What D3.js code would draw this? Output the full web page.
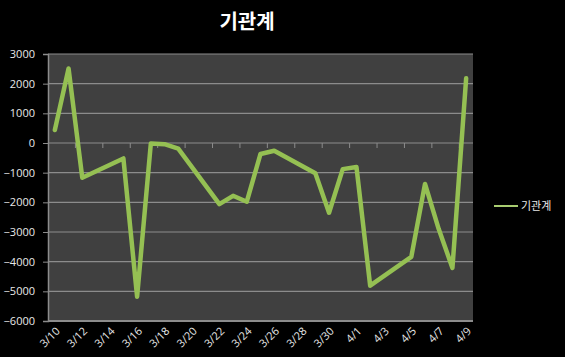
<!DOCTYPE html>
<html><head><meta charset="utf-8">
<script src="https://cdn.jsdelivr.net/npm/d3@7"></script>
<style>
body{margin:0;background:#000;}
svg{display:block;}
</style></head>
<body>
<script>
const title = "기관계";
const seriesName = "기관계";
const categories = ["3/10","3/11","3/12","3/13","3/14","3/15","3/16","3/17","3/18","3/19","3/20","3/21","3/22","3/23","3/24","3/25","3/26","3/27","3/28","3/29","3/30","3/31","4/1","4/2","4/3","4/4","4/5","4/6","4/7","4/8","4/9"];
const pointDates = ["3/10","3/11","3/12","3/15","3/16","3/17","3/18","3/19","3/22","3/23","3/24","3/25","3/26","3/29","3/30","3/31","4/1","4/2","4/5","4/6","4/7","4/8","4/9"];
const pointValues = [440,2510,-1170,-520,-5180,-20,-40,-190,-2060,-1780,-1980,-370,-260,-1020,-2350,-880,-810,-4810,-3840,-1380,-2900,-4210,2180];
const yTicks = [3000,2000,1000,0,-1000,-2000,-3000,-4000,-5000,-6000];
const labelEvery = 2;

(function(){
const W = 565, H = 357;
const pL = 48, pR = 473, pT = 54, pB = 321;
const svg = d3.select("body").append("svg").attr("width", W).attr("height", H);
svg.append("rect").attr("width", W).attr("height", H).attr("fill", "#000");

const x = d3.scaleBand().domain(categories).range([pL, pR]).padding(0);
const y = d3.scaleLinear().domain([-6000, 3000]).range([pB, pT]);
const cx = d => x(d) + x.bandwidth() / 2;

svg.append("rect").attr("x", pL).attr("y", pT).attr("width", pR - pL).attr("height", pB - pT).attr("fill", "#404040");

svg.append("g").selectAll("line").data(yTicks).join("line")
  .attr("x1", pL).attr("x2", pR)
  .attr("y1", d => y(d)).attr("y2", d => y(d))
  .attr("stroke", "#8c8c8c").attr("stroke-width", 1.2);

const yAxis = d3.axisLeft(y).tickValues(yTicks).tickSize(5).tickPadding(8).tickFormat(d3.format("d"));
const gy = svg.append("g").attr("transform", `translate(${pL},0)`).call(yAxis);
gy.select(".domain").attr("stroke", "#8c8c8c").attr("stroke-width", 1.5);
gy.selectAll(".tick line").attr("stroke", "#8c8c8c");
gy.selectAll("text").attr("fill", "#e8e8e8").style("font-family", "'Open Sans', 'Noto Sans', sans-serif").style("font-size", "11px");

const boundaries = categories.filter((c, i) => i > 0 && i % labelEvery === 0);
svg.append("g").selectAll("line").data(boundaries).join("line")
  .attr("x1", d => x(d)).attr("x2", d => x(d))
  .attr("y1", y(0)).attr("y2", y(0) + 5)
  .attr("stroke", "#8c8c8c").attr("stroke-width", 1);
svg.append("line").attr("x1", pL).attr("x2", pR).attr("y1", pB).attr("y2", pB)
  .attr("stroke", "#8c8c8c").attr("stroke-width", 2);

const labelCats = categories.filter((c, i) => i % labelEvery === 0);
svg.append("g").selectAll("text").data(labelCats).join("text")
  .attr("transform", d => `translate(${cx(d) + 3},${pB + 8}) rotate(-45)`)
  .attr("text-anchor", "end").attr("dy", "0.35em")
  .attr("fill", "#e8e8e8").style("font-family", "'Open Sans', 'Noto Sans', sans-serif").style("font-size", "11px")
  .text(d => d);

const data = pointDates.map((d, i) => ({d, v: pointValues[i]}));
const line = d3.line().x(p => cx(p.d)).y(p => y(p.v));
svg.append("path").datum(data).attr("d", line)
  .attr("fill", "none").attr("stroke", "#95c053").attr("stroke-width", 4.5)
  .attr("stroke-linejoin", "round").attr("stroke-linecap", "round");

svg.append("text").attr("x", 247).attr("y", 29).attr("text-anchor", "middle")
  .attr("fill", "#fff").style("font-family", "'Noto Sans CJK KR', sans-serif")
  .style("font-size", "20px").style("font-weight", "bold").text(title);

svg.append("line").attr("x1", 494).attr("x2", 518).attr("y1", 206).attr("y2", 206)
  .attr("stroke", "#a8cc70").attr("stroke-width", 2);
svg.append("text").attr("x", 521).attr("y", 206).attr("dy", "0.35em")
  .attr("fill", "#e8e8e8").style("font-family", "'Noto Sans CJK KR', sans-serif")
  .style("font-size", "11px").text(seriesName);
})();
</script>
</body></html>
